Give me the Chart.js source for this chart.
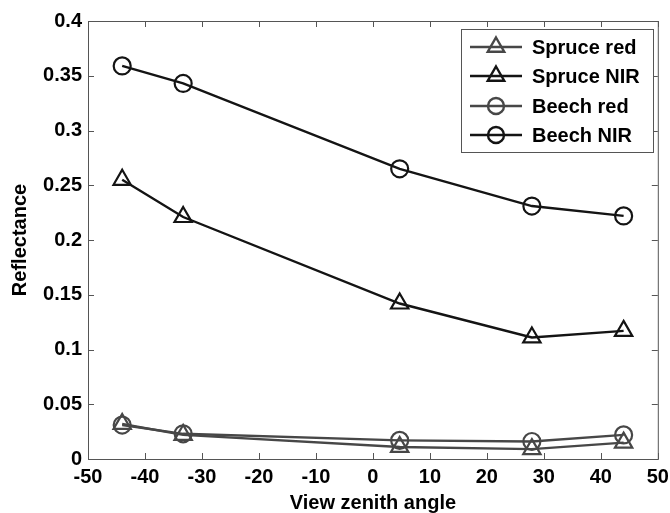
<!DOCTYPE html>
<html>
<head>
<meta charset="utf-8">
<script src="https://cdn.jsdelivr.net/npm/chart.js@4.4.1/dist/chart.umd.min.js"></script>
<style>
  html, body { margin: 0; padding: 0; background: #fff; }
  #wrap { width: 670px; height: 513px; }
</style>
</head>
<body>
<div id="wrap"><canvas id="chart" width="670" height="513"></canvas></div>
<script>
// view zenith angles (deg) and reflectance per series
const angles = [-44, -33.3, 4.7, 27.9, 44];
const spruceRed = [0.032, 0.022, 0.011, 0.009, 0.015];
const spruceNIR = [0.255, 0.221, 0.142, 0.111, 0.117];
const beechRed = [0.031, 0.023, 0.017, 0.016, 0.022];
const beechNIR = [0.359, 0.343, 0.265, 0.231, 0.222];
const seriesLabels = ["Spruce red", "Spruce NIR", "Beech red", "Beech NIR"];

const FONT = "'Liberation Sans', Arial, sans-serif";
const GRAY = "#474747";
const DARK = "#141414";

function pts(ys) {
  return ys.map((y, i) => ({ x: angles[i], y }));
}

function makeSet(label, ys, color, shape, r) {
  return {
    label,
    data: pts(ys),
    showLine: true,
    borderColor: color,
    backgroundColor: "transparent",
    borderWidth: 2.4,
    pointStyle: shape,
    pointRadius: r,
    pointBorderWidth: 2.2,
    pointBorderColor: color,
    pointBackgroundColor: "transparent",
    tension: 0,
  };
}

// inward ticks on all four sides + box, MATLAB style
const boxPlugin = {
  id: "box",
  afterDatasetsDraw(chart) {
    const { ctx, chartArea: a, scales } = chart;
    ctx.save();
    ctx.strokeStyle = "#555";
    ctx.lineWidth = 1;
    ctx.strokeRect(a.left + 0.5, a.top + 0.5, a.right - a.left, a.bottom - a.top);
    const len = 6;
    ctx.beginPath();
    scales.x.ticks.forEach(t => {
      const px = Math.round(scales.x.getPixelForValue(t.value)) + 0.5;
      ctx.moveTo(px, a.bottom); ctx.lineTo(px, a.bottom - len);
      ctx.moveTo(px, a.top); ctx.lineTo(px, a.top + len);
    });
    scales.y.ticks.forEach(t => {
      const py = Math.round(scales.y.getPixelForValue(t.value)) + 0.5;
      ctx.moveTo(a.left, py); ctx.lineTo(a.left + len, py);
      ctx.moveTo(a.right, py); ctx.lineTo(a.right - len, py);
    });
    ctx.stroke();
    ctx.restore();
  }
};

// legend box with line + marker samples
const legendPlugin = {
  id: "boxLegend",
  afterDraw(chart) {
    const { ctx } = chart;
    const x0 = 461, y0 = 29, w = 192, h = 123, rowH = 29.4;
    ctx.save();
    ctx.fillStyle = "#fff";
    ctx.fillRect(x0, y0, w, h);
    ctx.strokeStyle = "#555";
    ctx.lineWidth = 1;
    ctx.strokeRect(x0 + 0.5, y0 + 0.5, w, h);
    ctx.font = "bold 20px " + FONT;
    ctx.textBaseline = "middle";
    chart.data.datasets.forEach((ds, i) => {
      const cy = Math.round(y0 + 18 + i * rowH);
      ctx.strokeStyle = ds.borderColor;
      ctx.lineWidth = ds.borderWidth;
      ctx.beginPath();
      ctx.moveTo(470, cy); ctx.lineTo(522, cy);
      ctx.stroke();
      ctx.fillStyle = "rgba(0,0,0,0)";
      Chart.helpers.drawPoint(ctx, {
        pointStyle: ds.pointStyle, radius: ds.pointRadius - 0.5, borderWidth: ds.pointBorderWidth, rotation: 0
      }, 496, cy);
      ctx.fillStyle = "#000";
      ctx.fillText(ds.label, 532, cy + 1);
    });
    ctx.restore();
  }
};

const tickFont = { family: FONT, size: 20, weight: "bold" };

new Chart(document.getElementById("chart"), {
  type: "scatter",
  data: {
    datasets: [
      makeSet(seriesLabels[0], spruceRed, GRAY, "triangle", 10),
      makeSet(seriesLabels[1], spruceNIR, DARK, "triangle", 10),
      makeSet(seriesLabels[2], beechRed, GRAY, "circle", 8.5),
      makeSet(seriesLabels[3], beechNIR, DARK, "circle", 8.5),
    ]
  },
  options: {
    responsive: false,
    animation: false,
    events: [],
    layout: { padding: { top: 21, right: 12, left: 0, bottom: 0 } },
    plugins: { legend: { display: false }, tooltip: { enabled: false } },
    scales: {
      x: {
        type: "linear", min: -50, max: 50,
        ticks: { stepSize: 10, color: "#000", font: tickFont, padding: 6, maxRotation: 0 },
        grid: { display: false, drawTicks: false },
        border: { display: false },
        title: { display: true, text: "View zenith angle", color: "#000", font: tickFont, padding: { top: 0, bottom: -2 } },
        afterFit(s) { s.height = 54; s.paddingLeft = 0; s.paddingRight = 0; }
      },
      y: {
        min: 0, max: 0.4,
        ticks: {
          stepSize: 0.05, color: "#000", font: tickFont, padding: 6,
          callback: v => String(+v.toFixed(2))
        },
        grid: { display: false, drawTicks: false },
        border: { display: false },
        title: { display: true, text: "Reflectance", color: "#000", font: tickFont, padding: { top: 8, bottom: 0 } },
        afterFit(s) { s.width = 88; s.paddingTop = 0; s.paddingBottom = 0; }
      }
    }
  },
  plugins: [boxPlugin, legendPlugin]
});
</script>
</body>
</html>
